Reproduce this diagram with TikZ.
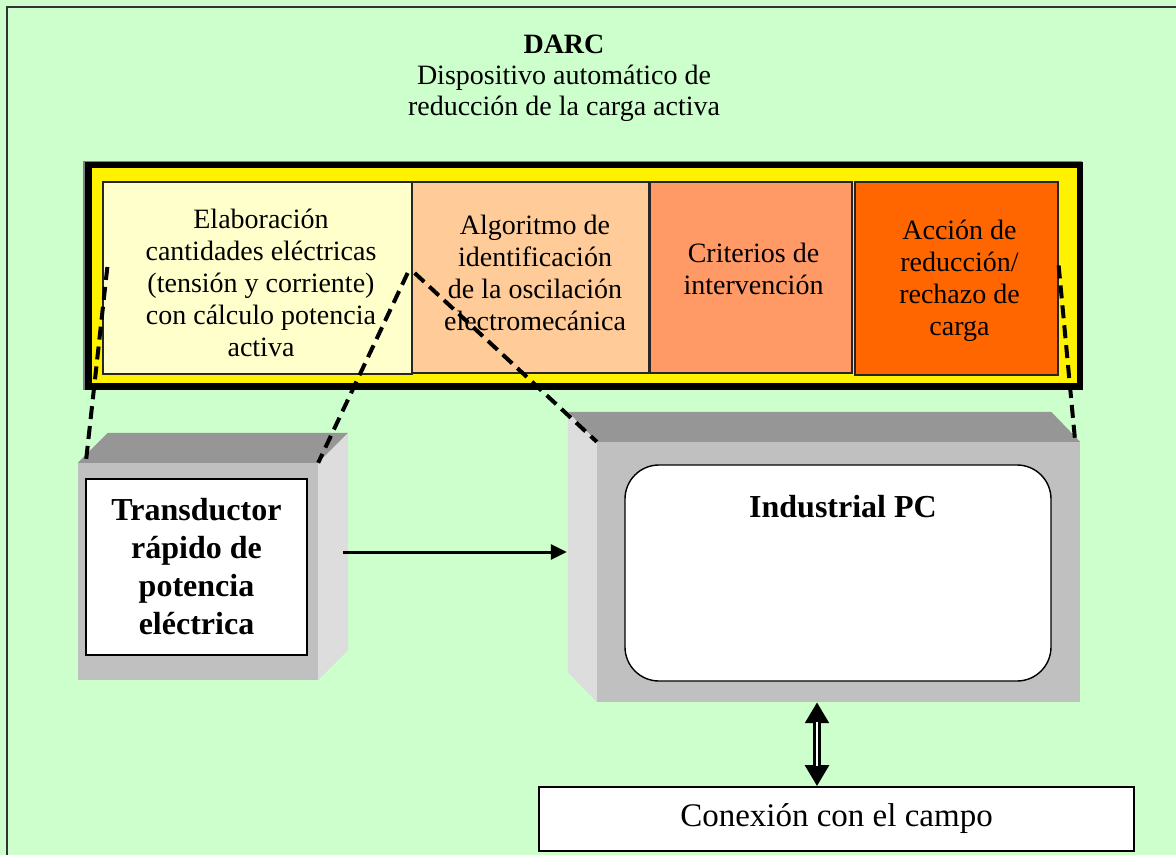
\documentclass[tikz,border=0pt]{standalone}
\usepackage{fontspec}
\setmainfont{Liberation Serif}
\usetikzlibrary{arrows.meta,calc}
\definecolor{bggreen}{HTML}{CCFFCC}
\definecolor{boxA}{HTML}{FFFFCC}
\definecolor{boxB}{HTML}{FFCC99}
\definecolor{boxC}{HTML}{FF9966}
\definecolor{boxD}{HTML}{FF6600}
\definecolor{gfront}{HTML}{C0C0C0}
\definecolor{gtop}{HTML}{969696}
\definecolor{gside}{HTML}{DDDDDD}
\begin{document}
\begin{tikzpicture}[x=1pt,y=-1pt,
  stagebox/.style={draw=black!85,line width=1.3pt,inner sep=0pt},
  stagetext/.style={inner sep=0pt,align=center,font=\fontsize{28}{32}\selectfont},
  face/.style={draw=none,inner sep=0pt},
  zoomline/.style={draw=black,line width=4pt,dash pattern=on 13pt off 7pt},
  flow/.style={line width=3pt,-{Triangle[length=16pt,width=15pt]}}
]
\useasboundingbox (0,0) rectangle (1176,855);
\fill[bggreen] (0,0) rectangle (1176,855);
\draw[black!80,line width=2pt] (7,855) -- (7,6.5) -- (1176,6.5);

% title
\node[inner sep=0pt,align=center,font=\fontsize{28}{31}\selectfont] (title) at (564,78)
  {\textbf{DARC}\\Dispositivo automático de\\reducción de la carga activa};

% DARC frame
\node[draw=none,minimum width=991.5pt,minimum height=221.5pt,inner sep=0pt] (frameref) at (584.25,275.75) {};
\draw[gray,line width=1.5pt] ([shift={(-4.5,3.5)}]frameref.south west) |- ([shift={(2,-3)}]frameref.north east);
\node[draw=black,fill=yellow,line width=6.5pt,minimum width=991.5pt,minimum height=221.5pt,inner sep=0pt] (frame) at (584.25,275.75) {};

% stages
\node[stagebox,fill=boxA,minimum width=309pt,minimum height=192pt] (box1) at (257.5,278) {};
\node[stagebox,fill=boxB,minimum width=237pt,minimum height=191pt] (box2) at (530.5,277.5) {};
\node[stagebox,fill=boxC,minimum width=202pt,minimum height=191pt] (box3) at (751,277.5) {};
\node[stagebox,fill=boxD,minimum width=203pt,minimum height=193pt] (box4) at (956.5,278.5) {};
\node[stagetext] (t1) at (261,283) {Elaboración\\cantidades eléctricas\\(tensión y corriente)\\con cálculo potencia\\activa};
\node[stagetext] (t2) at (535,273) {Algoritmo de\\identificación\\de la oscilación\\electromecánica};
\node[stagetext] (t3) at (753.5,268.5) {Criterios de\\intervención};
\node[stagetext] (t4) at (959.5,281) {Acción de\\reducción/\\rechazo de\\carga};

% transducer 3D box
\node[face,fill=gfront,minimum width=240pt,minimum height=217pt] (trfront) at (198,571.5) {};
\fill[gtop] (trfront.north west) -- (trfront.north east) -- ([shift={(30,-30)}]trfront.north east) -- ([shift={(30,-30)}]trfront.north west) -- cycle;
\fill[gside] (trfront.north east) -- ([shift={(30,-30)}]trfront.north east) -- ([shift={(30,-30)}]trfront.south east) -- (trfront.south east) -- cycle;
\node[draw=black,fill=white,line width=1.4pt,minimum width=221pt,minimum height=176pt,inner sep=0pt,align=center,
  font=\fontsize{32}{38}\selectfont\bfseries] (trlabel) at (196.5,567)
  {Transductor\\rápido de\\potencia\\eléctrica};

% industrial PC 3D box
\node[face,fill=gfront,minimum width=483pt,minimum height=260pt] (pcfront) at (838.5,572) {};
\fill[gtop] (pcfront.north west) -- (pcfront.north east) -- ([shift={(-29,-30)}]pcfront.north east) -- ([shift={(-29,-30)}]pcfront.north west) -- cycle;
\fill[gside] (pcfront.north west) -- ([shift={(-29,-30)}]pcfront.north west) -- ([shift={(-29,-30)}]pcfront.south west) -- (pcfront.south west) -- cycle;
\node[draw=black,fill=white,line width=1.4pt,rounded corners=34pt,minimum width=426pt,minimum height=216pt,inner sep=0pt] (pcscreen) at (838,573) {};
\node[inner sep=0pt,font=\fontsize{32}{38}\selectfont\bfseries] (pctext) at (843,507) {Industrial PC};

% field connection
\node[draw=black,fill=white,line width=1.6pt,minimum width=595pt,minimum height=64pt,inner sep=0pt,
  font=\fontsize{33}{38}\selectfont] (conexion) at (836.5,819) {Conexión con el campo};

% arrows
\draw[flow] ([shift={(25,-19.5)}]trfront.east) -- ([shift={(-30,-20)}]pcfront.west);
\coordinate (arrx) at (817,0);
\draw[line width=7.5pt,{Triangle[length=21pt,width=23pt]}-{Triangle[length=21pt,width=23pt]}]
  (pcfront.south -| arrx) -- (conexion.north -| arrx);
\draw[white,line width=2.6pt] ([yshift=-20pt]pcfront.south -| arrx) -- ([yshift=20pt]conexion.north -| arrx);

% zoom dashed lines
\draw[zoomline] ([shift={(5,-11)}]box1.west) -- ([xshift=8pt]trfront.north west);
\draw[zoomline] ([shift={(-5,-5)}]box1.east) -- (trfront.north east);
\draw[zoomline] ([shift={(2,-5)}]box1.east) -- (pcfront.north west);
\draw[zoomline] ([shift={(0,-13)}]box4.east) -- ([xshift=-5pt]pcfront.north east);
\end{tikzpicture}
\end{document}
